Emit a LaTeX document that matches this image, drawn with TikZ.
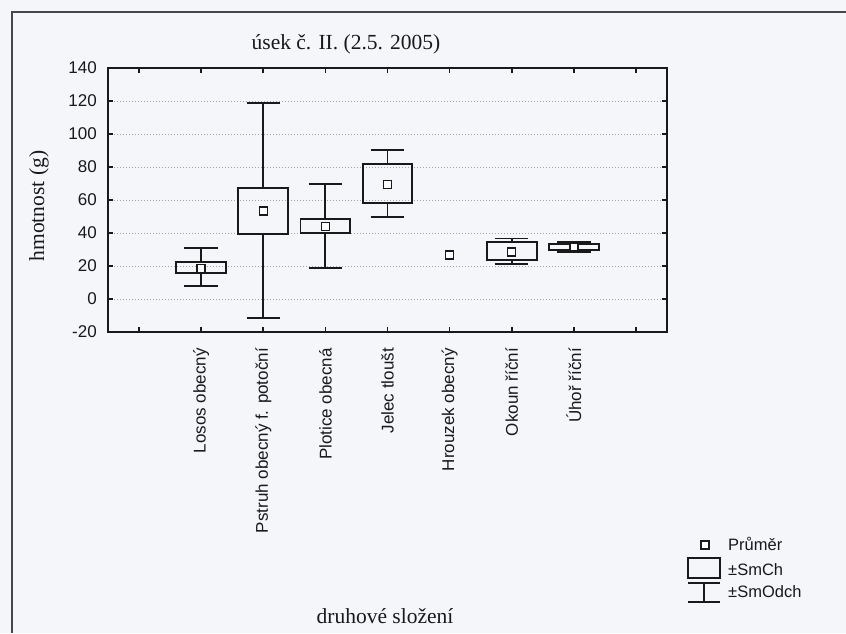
\documentclass[tikz,border=0pt]{standalone}
\usepackage{fontspec}
\setmainfont{Liberation Serif}
\setsansfont{Liberation Sans}
\definecolor{paper}{RGB}{245,246,250}
\definecolor{ink}{RGB}{25,25,25}
\definecolor{gridc}{RGB}{165,165,175}
\tikzset{
  frameline/.style={line width=1.4pt, draw=ink!80},
  axisline/.style={line width=1.9pt, draw=ink},
  tickline/.style={line width=1.6pt, draw=ink},
  gridline/.style={line width=1pt, draw=gridc, dotted},
  boxline/.style={line width=1.9pt, draw=ink},
  meanmk/.style={draw=ink, fill=white, line width=1.5pt, minimum size=8pt, inner sep=0pt, rectangle},
  ylab/.style={font=\fontsize{17}{17}\sffamily, anchor=east, inner sep=0pt, text=ink},
  catlab/.style={font=\fontsize{17}{17}\sffamily, rotate=90, anchor=east, inner sep=0pt, text=ink},
  legtext/.style={font=\fontsize{16.5}{16.5}\sffamily, anchor=base west, inner sep=0pt, text=ink},
  serifti/.style={font=\fontsize{21.5}{21.5}\rmfamily, inner sep=0pt, text=ink},
}
\newcommand\boxplotitem[6]{%
  % #1 x, #2 mean, #3 box lo, #4 box hi, #5 whisker lo, #6 whisker hi
  \draw[boxline] (#1,#5) -- (#1,#3) (#1,#4) -- (#1,#6);
  \draw[boxline] (#1-0.27,#5) -- (#1+0.27,#5) (#1-0.27,#6) -- (#1+0.27,#6);
  \draw[boxline] (#1-0.4,#3) rectangle (#1+0.4,#4);
  \node[meanmk] at (#1,#2) {};
}
\begin{document}
\begin{tikzpicture}[x=1pt,y=-1pt]
\useasboundingbox (0,0) rectangle (846,633);
\fill[paper] (0,0) rectangle (846,633);
% outer frame (top and left visible)
\draw[frameline] (12,633) -- (12,12) -- (846,12);

% title
\node[serifti, anchor=base] (title) at (346,49) {úsek č. II. (2.5. 2005)};
% y axis title
\node[serifti, rotate=90, anchor=base] (ytitle) at (44,206) {hmotnost (g)};
% x axis title
\node[serifti, anchor=base] (xtitle) at (385,623) {druhové složení};

% data coordinate system: value v -> y = 299 - 1.65 v ; category i -> x = 76.94 + 62.11 i
\begin{scope}[shift={(76.94,299)}, x=62.11pt, y=1.65pt]
  % grid
  \foreach \v in {0,20,...,120} {
    \draw[gridline] (0.5,\v) -- (9.5,\v);
  }
  % ticks
  \foreach \v in {-20,0,...,140} {
    \draw[tickline] (0.5,\v) -- ++(5pt,0);
    \draw[tickline] (9.5,\v) -- ++(-5pt,0);
  }
  \foreach \i in {1,...,9} {
    \draw[tickline] (\i,140) -- ++(0,-5pt);
    \draw[tickline] (\i,-20) -- ++(0,5pt);
  }
  % frame of plot
  \draw[axisline] (0.5,-20) rectangle (9.5,140);
  % y labels
  \foreach \v in {-20,0,...,140} {
    \node[ylab] (yl\v) at ([xshift=-11pt]0.5,\v) {\v};
  }
  % boxes
  \boxplotitem{2}{18.5}{15.5}{22.6}{8}{31}
  \boxplotitem{3}{53.3}{39.6}{67.3}{-11.5}{118.6}
  \boxplotitem{4}{43.8}{39.8}{48.7}{19}{69.7}
  \boxplotitem{5}{69.5}{58.3}{81.8}{49.5}{90.5}
  \node[meanmk] (hrouzek) at (6,26.7) {};
  \boxplotitem{7}{28.5}{23.5}{34.5}{21}{36.7}
  \boxplotitem{8}{31.5}{29.6}{33.3}{28.6}{34.3}
  % category labels
  \node[catlab] (c2) at ([yshift=-16pt]2,-20) {Losos obecný};
  \node[catlab] (c3) at ([yshift=-16pt]3,-20) {Pstruh obecný f. potoční};
  \node[catlab] (c4) at ([yshift=-16pt]4,-20) {Plotice obecná};
  \node[catlab] (c5) at ([yshift=-16pt]5,-20) {Jelec tloušt};
  \node[catlab] (c6) at ([yshift=-16pt]6,-20) {Hrouzek obecný};
  \node[catlab] (c7) at ([yshift=-16pt]7,-20) {Okoun říční};
  \node[catlab] (c8) at ([yshift=-16pt]8,-20) {Úhoř říční};
\end{scope}

% legend
\node[meanmk] (legmean) at (705,545) {};
\node[legtext] (legt1) at (728,550) {Průměr};
\draw[boxline] (688,558) rectangle (720,578);
\node[legtext] (legt2) at (728,575) {±SmCh};
\draw[boxline] (688,583) -- (720,583) (704,583) -- (704,602) (688,602) -- (720,602);
\node[legtext] (legt3) at (728,597) {±SmOdch};
\end{tikzpicture}
\end{document}
